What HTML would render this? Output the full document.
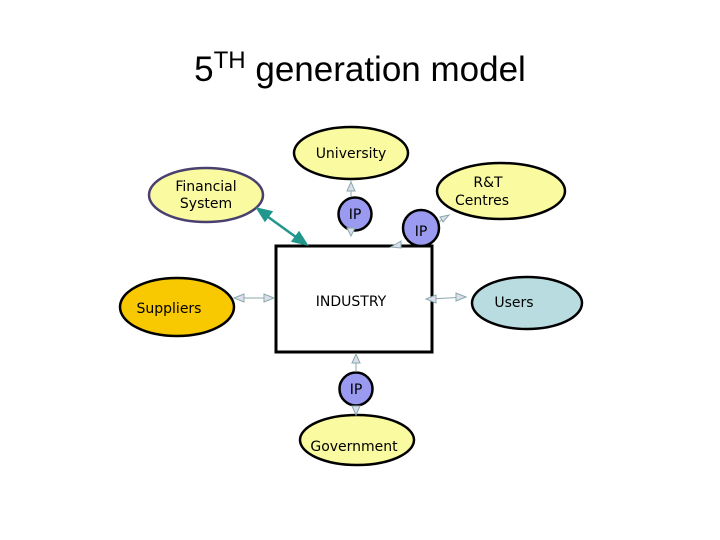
<!DOCTYPE html>
<html><head><style>
body{margin:0;background:#fff;}
svg{display:block;}
text{font-family:"DejaVu Sans","Liberation Sans",sans-serif;font-size:14px;fill:#000;}
</style></head><body>
<svg width="720" height="540" viewBox="0 0 720 540">
<text x="360" y="81" text-anchor="middle" style="font-family:'Liberation Sans',sans-serif;font-size:35px">5<tspan dy="-13" font-size="24">TH</tspan><tspan dy="13"> generation model</tspan></text>
<g stroke="#000" stroke-width="2.5">
<ellipse cx="351" cy="153" rx="57" ry="26" fill="#fafaa0"/>
<ellipse cx="206" cy="195" rx="57" ry="27" fill="#fafaa0" stroke="#4a4070"/>
<ellipse cx="501" cy="191" rx="64" ry="28" fill="#fafaa0"/>
<ellipse cx="177" cy="307" rx="57" ry="29" fill="#f8c800"/>
<ellipse cx="527" cy="303" rx="55" ry="26" fill="#b8dce0"/>
<ellipse cx="357" cy="440" rx="57" ry="25" fill="#fafaa0"/>
<rect x="276" y="246" width="156" height="106" fill="#fff" stroke-width="3"/>
<circle cx="355" cy="214" r="16.5" fill="#9a9af0"/>
<circle cx="421" cy="228" r="18" fill="#9a9af0"/>
<circle cx="356" cy="389" r="16.5" fill="#9a9af0"/>
</g>
<g stroke="#8aa" stroke-width="1" fill="#dde">
<line x1="236" y1="298" x2="274" y2="298"/>
<line x1="430" y1="299" x2="466" y2="297"/>
<line x1="351" y1="181" x2="351" y2="197"/>
<line x1="356" y1="353" x2="356" y2="372"/>
<line x1="439" y1="222" x2="446" y2="217"/>
<polygon points="234,298 244,294 244,302"/>
<polygon points="274,298 264,294 264,302"/>
<polygon points="426,299 436,295 436,303"/>
<polygon points="466,297 456,293 456,301"/>
<polygon points="351,182 347,191 355,191"/>
<polygon points="351,236 347,228 355,228"/>
<polygon points="356,354 352,363 360,363"/>
<polygon points="356,415 352,406 360,406"/>
<polygon points="391,247 401,241 401,248"/>
<polygon points="449,215 440,217 443,222"/>
</g>
<g stroke="#20968c" stroke-width="2.5" fill="#20968c">
<line x1="264" y1="214" x2="300" y2="240"/>
<polygon points="258,209 271,212 265,220"/>
<polygon points="306,244 293,241 299,233"/>
</g>
<text x="206" y="191" text-anchor="middle">Financial</text>
<text x="206" y="208" text-anchor="middle">System</text>
<text x="351" y="158" text-anchor="middle">University</text>
<text x="488" y="187" text-anchor="middle">R&amp;T</text>
<text x="482" y="205" text-anchor="middle">Centres</text>
<text x="169" y="313" text-anchor="middle">Suppliers</text>
<text x="514" y="307" text-anchor="middle">Users</text>
<text x="351" y="306" text-anchor="middle">INDUSTRY</text>
<text x="354" y="451" text-anchor="middle">Government</text>
<text x="355" y="219" text-anchor="middle">IP</text>
<text x="421" y="236" text-anchor="middle">IP</text>
<text x="356" y="394" text-anchor="middle">IP</text>
</svg>
</body></html>
